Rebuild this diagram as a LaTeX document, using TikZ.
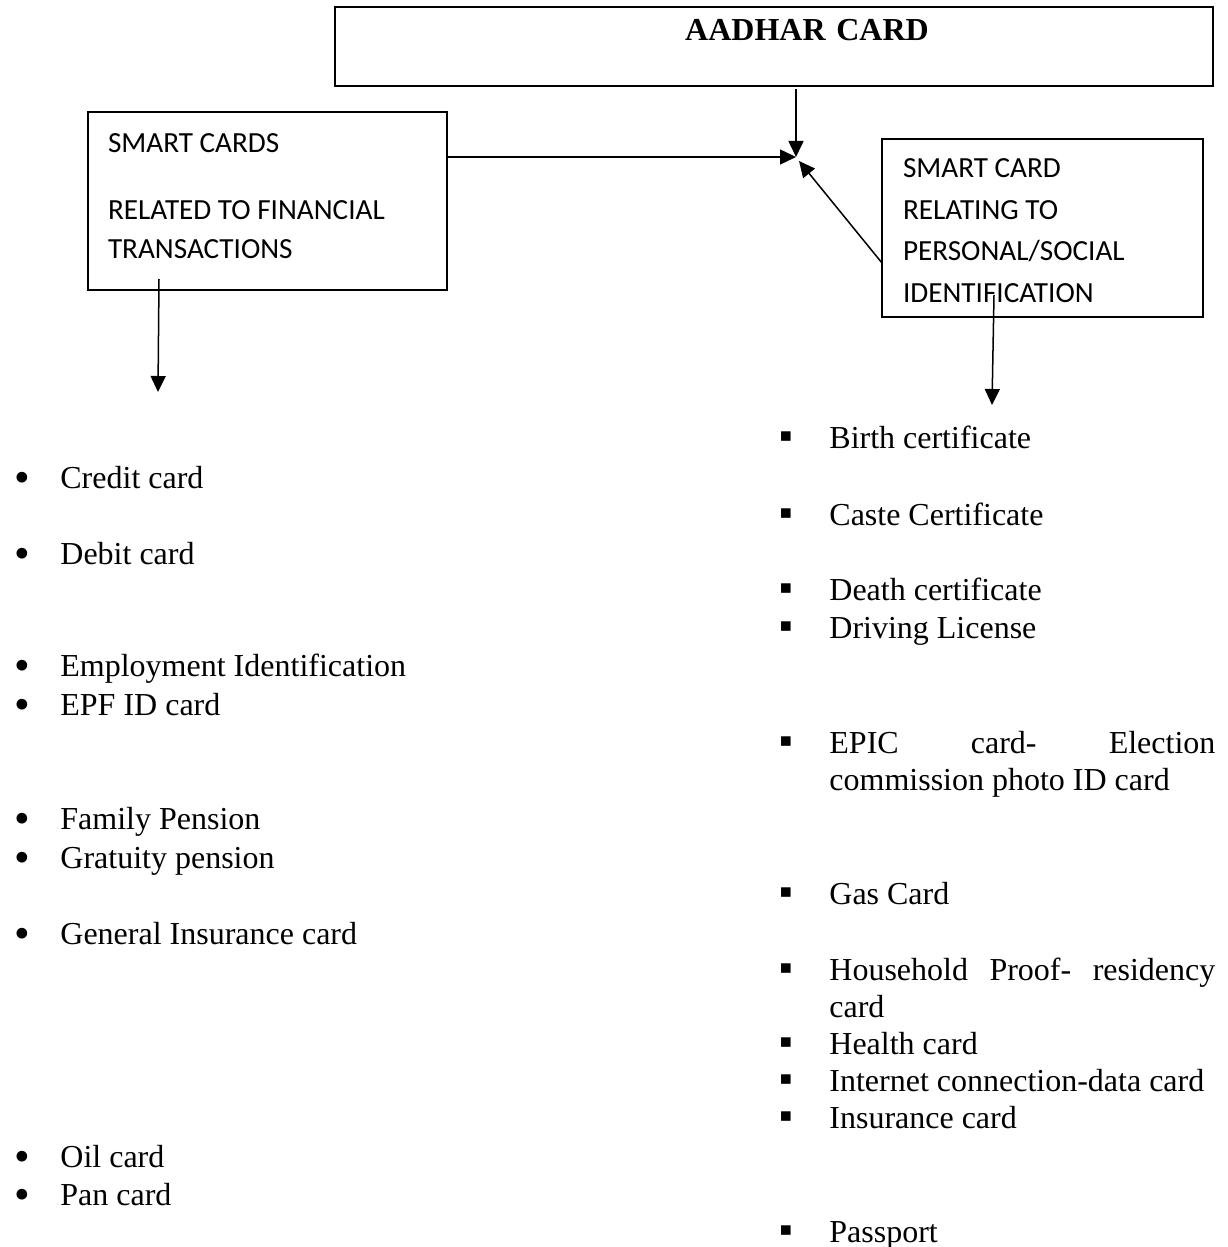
\documentclass[tikz,border=0pt]{standalone}
\usepackage{fontspec}
\setmainfont{Liberation Serif}
\newfontfamily\calibrifont{Carlito}
\usetikzlibrary{positioning}
\usetikzlibrary{arrows.meta}
\usetikzlibrary{calc}

\newcommand{\finmark}{\makebox[22.75pt][l]{\smash{\raisebox{-2.2pt}{\scalebox{1.4}{\textbullet}}}}}
\newcommand{\idmark}{\makebox[26pt][l]{\hspace*{1pt}\smash{\scalebox{1.2}{▪}}}}

\begin{document}
\begin{tikzpicture}[
        x = 0.5pt,
        y = -0.5pt,
        frame/.style = {
            draw,
            line width = #1,
            anchor = north west,
            inner ysep = 0pt,
            outer sep = 0pt
        },
        frame/.default = 0.6pt,
        boxtext/.style = {
            font = \calibrifont\fontsize{14.6pt}{20pt}\selectfont,
            align = left,
            execute at begin node = {\spaceskip=0pt\relax}
        },
        finitem/.style = {
            anchor = base west,
            inner sep = 0pt,
            font = \fontsize{16pt}{18.5pt}\selectfont
        },
        iditem/.style = {
            anchor = base west,
            inner sep = 0pt,
            text width = 219pt,
            align = left,
            font = \fontsize{16pt}{18.5pt}\selectfont,
            execute at begin node = {\spaceskip=0pt\relax}
        },
        link/.style = {
            line width = 0.75pt,
            -{Triangle[length=8pt, width=7.5pt]}
        }
            ]
            \useasboundingbox (0,0) rectangle (1227,1247);

            % boxes
            \node[frame=1pt, inner xsep=0pt, text width=439pt, align=center,
                  text height=16.75pt, text depth=22.75pt,
                  font=\bfseries\fontsize{16pt}{18.5pt}\selectfont] (aadhar) at (335,7) {\hspace*{33pt}AADHAR CARD};

            \node[frame, boxtext, inner xsep=10pt, text width=159.5pt,
                  text height=20pt, text depth=69pt] (finbox) at (88,112)
                  {SMART CARDS\\[13.5pt]RELATED TO FINANCIAL\\TRANSACTIONS};

            \node[frame, boxtext, inner xsep=10.5pt, text width=139.5pt,
                  text height=19.25pt, text depth=69.75pt,
                  font=\calibrifont\fontsize{14.6pt}{20.75pt}\selectfont] (idbox) at (882,139)
                  {SMART CARD\\RELATING TO\\PERSONAL/SOCIAL\\IDENTIFICATION};

            \coordinate (hub) at (796,157);
            \coordinate (finend) at (158,392);
            \coordinate (idend) at (992,405);

            \draw[link, shorten <=1.5pt] (aadhar.south -| hub) -- (hub);
            \draw[link] (finbox.east |- hub) -- (hub);
            \draw[link] ([yshift=-17.5pt]idbox.west) -- ($(hub)+(3,4)$);

            \draw[link] ($(finend |- finbox.south)+(1,-11)$) -- (finend);
            \draw[link] ($(idend |- idbox.south)+(2,-22)$) -- (idend);

            % financial cards
            \node[finitem] (credit) at (14.5,488) {\finmark Credit card};
            \node[finitem] (debit) at (14.5,564) {\finmark Debit card};
            \node[finitem] (employ) at (14.5,676) {\finmark Employment Identification};
            \node[finitem] (epf) at (14.5,715) {\finmark EPF ID card};
            \node[finitem] (family) at (14.5,829) {\finmark Family Pension};
            \node[finitem] (gratuity) at (14.5,868) {\finmark Gratuity pension};
            \node[finitem] (general) at (14.5,944) {\finmark General Insurance card};
            \node[finitem] (oil) at (14.5,1167) {\finmark Oil card};
            \node[finitem] (pan) at (14.5,1205) {\finmark Pan card};

            % identification cards
            \node[iditem] (birth) at (777,448) {\idmark Birth certificate};
            \node[iditem] (caste) at (777,525) {\idmark Caste Certificate};
            \node[iditem] (death) at (777,600) {\idmark Death certificate};
            \node[iditem] (driving) at (777,638) {\idmark Driving License};
            \node[iditem] (epic) at (777,753) {\idmark\makebox[193pt][s]{EPIC\hfill card-\hfill Election}\\\hspace*{26pt}commission photo ID card};
            \node[iditem] (gas) at (777,904) {\idmark Gas Card};
            \node[iditem] (household) at (777,980) {\idmark\makebox[193pt][s]{Household\hfill Proof-\hfill residency}\\\hspace*{26pt}card};
            \node[iditem] (health) at (777,1054) {\idmark Health card};
            \node[iditem] (internet) at (777,1091) {\idmark Internet connection-data card};
            \node[iditem] (insurance) at (777,1128) {\idmark Insurance card};
            \node[iditem] (passport) at (777,1242) {\idmark Passport};

        \end{tikzpicture}
\end{document}
